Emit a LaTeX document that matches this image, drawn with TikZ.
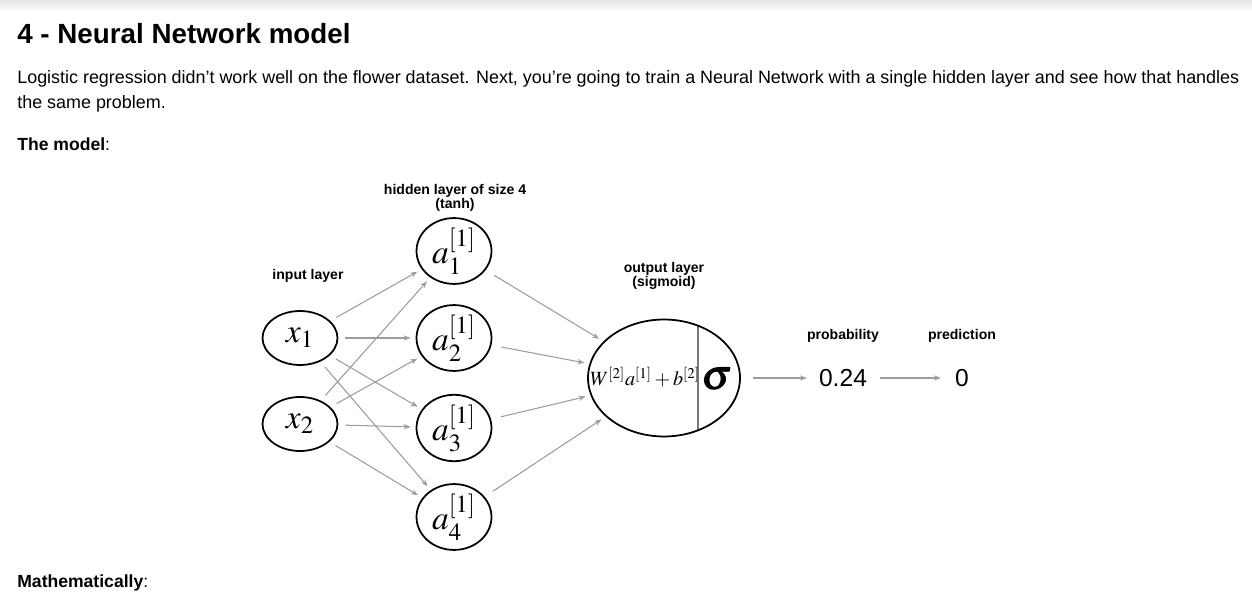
\documentclass[tikz,border=0pt]{standalone}
\usepackage{mathptmx}
\usepackage{bm}
\usepackage{fontspec}
\setmainfont{Liberation Sans}
\usepackage{tikz}
\usetikzlibrary{shapes.geometric,arrows.meta}
\definecolor{NNEdge}{HTML}{9C9C9C}
\definecolor{NNBar}{HTML}{7A7A7A}
\begin{document}
\begin{tikzpicture}[x=0.02cm,y=-0.02cm,
  neuron/.style={draw,line width=1pt,ellipse,minimum width=1.5cm,minimum height=1.08cm,inner sep=0pt,font=\fontsize{19}{22}\selectfont},
  conn/.style={draw=NNEdge,line width=0.6pt,-{Stealth[length=4pt,width=3pt]},shorten <=0.14cm,shorten >=0.1cm},
  caption/.style={font=\bfseries\fontsize{8}{7.8}\selectfont,align=center,inner sep=0pt}]
\path[use as bounding box] (0,0) rectangle (1252,601);
\shade[top color=gray!20,bottom color=white] (0,0) rectangle (1252,12);
% page text
\node[anchor=base west,inner sep=0pt,font=\bfseries\fontsize{15.8}{19}\selectfont] (title) at (17,44) {4 - Neural Network model};
\node[anchor=base west,inner sep=0pt,font=\fontsize{10.2}{12}\selectfont] (intro) at (17,84) {Logistic regression didn't work well on the flower dataset. Next, you're going to train a Neural Network with a single hidden layer and see how that handles};
\node[anchor=base west,inner sep=0pt,font=\fontsize{10.2}{12}\selectfont] (intro2) at (17,109) {the same problem.};
\node[anchor=base west,inner sep=0pt,font=\fontsize{10}{12}\selectfont] (model) at (17,151) {\textbf{The model}:};
\node[anchor=base west,inner sep=0pt,font=\fontsize{10}{12}\selectfont] (maths) at (17,587) {\textbf{Mathematically}:};
% layer captions
\node[caption] (hcap) at (455,198) {hidden layer of size 4\\(tanh)};
\node[caption] (icap) at (308,276) {input layer};
\node[caption] (ocap) at (664,276) {output layer\\(sigmoid)};
\node[caption] (pcap) at (843,336) {probability};
\node[caption] (dcap) at (962,336) {prediction};
% input layer
\node[neuron] (x1) at (300,338) {$x_1$};
\node[neuron] (x2) at (300,424) {$x_2$};
% hidden layer
\node[neuron] (h1) at (454,251) {$a_1^{[1]}$};
\node[neuron] (h2) at (454,338) {$a_2^{[1]}$};
\node[neuron] (h3) at (454,428) {$a_3^{[1]}$};
\node[neuron] (h4) at (454,517) {$a_4^{[1]}$};
% output unit
\node[neuron,minimum width=3.04cm,minimum height=2.34cm,
  path picture={\draw[NNBar,line width=1.2pt] ([xshift=0.68cm]path picture bounding box.north) -- ([xshift=0.68cm]path picture bounding box.south);}] (out) at (664,378) {};
\node[inner sep=0pt,font=\fontsize{11.5}{13}\selectfont] (lin) at (645,377) {$W^{[2]}a^{[1]}+b^{[2]}$};
\node[inner sep=0pt,font=\fontsize{24}{26}\selectfont] (sig) at (717,379) {$\bm{\sigma}$};
% results
\node[font=\fontsize{14}{16}\selectfont] (prob) at (843,378) {0.24};
\node[font=\fontsize{14}{16}\selectfont] (pred) at (962,378) {0};
% input -> hidden
\draw[conn] (x1) -- (h1);
\draw[conn] (x1) -- (h2);
\draw[conn] (x1) -- (h3);
\draw[conn] (x1) -- (h4);
\draw[conn] (x2) -- (h1);
\draw[conn] (x2) -- (h2);
\draw[conn] (x2) -- (h3);
\draw[conn] (x2) -- (h4);
% hidden -> output
\draw[conn,shorten <=0.2cm] (h1) -- (out);
\draw[conn,shorten <=0.2cm] (h2) -- (out);
\draw[conn,shorten <=0.2cm] (h3) -- (out);
\draw[conn,shorten <=0.2cm] (h4) -- (out);
% output -> probability -> prediction
\draw[conn,shorten <=0.24cm,shorten >=0.12cm] (out) -- (prob);
\draw[conn,shorten >=0.16cm] (prob) -- (pred);
\end{tikzpicture}
\end{document}
